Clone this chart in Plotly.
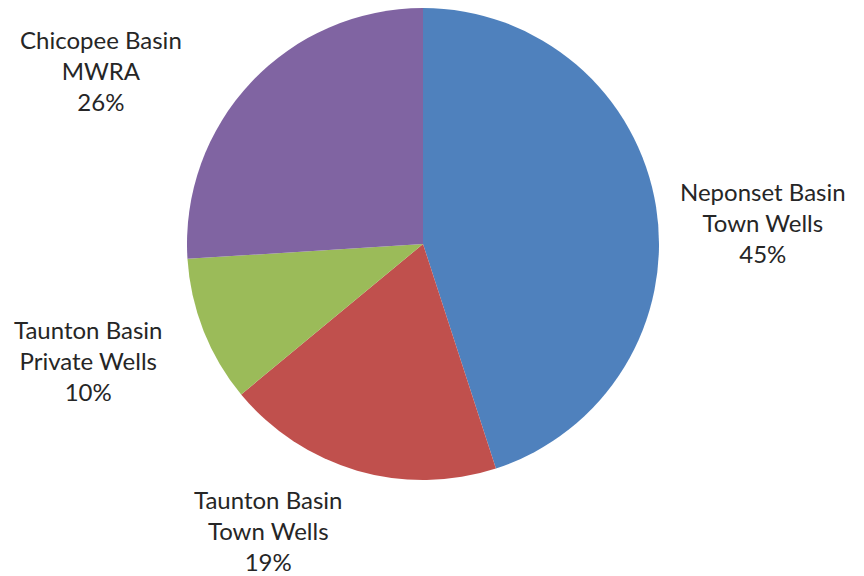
import plotly.graph_objects as go

# Share of supply by basin / source
basins = ["Neponset Basin", "Taunton Basin", "Taunton Basin", "Chicopee Basin"]
sources = ["Town Wells", "Town Wells", "Private Wells", "MWRA"]
shares = [45, 19, 10, 26]
colors = ["#4F81BD", "#C0504D", "#9BBB59", "#8064A2"]

# label anchor points (pixel centres in the 864x576 canvas)
label_xy = [(763, 222), (268, 530), (88, 360), (101, 70)]

W, H = 864, 576

fig = go.Figure(
    go.Pie(
        labels=[f"{b} {s}" for b, s in zip(basins, sources)],
        values=shares,
        sort=False,
        direction="clockwise",
        rotation=0,
        marker=dict(colors=colors, line=dict(width=0)),
        textinfo="none",
        hoverinfo="label+percent",
        showlegend=False,
        domain=dict(x=[187 / W, 659 / W], y=[(H - 480) / H, (H - 8) / H]),
    )
)

total = sum(shares)
for (b, s, v), (px, py) in zip(zip(basins, sources, shares), label_xy):
    fig.add_annotation(
        x=px / W,
        y=1 - py / H,
        xref="paper",
        yref="paper",
        text=f"{b}<br>{s}<br>{round(100 * v / total)}%",
        showarrow=False,
        xanchor="center",
        yanchor="middle",
        align="center",
        font=dict(family="Lato", size=24, color="#262626"),
    )

fig.update_layout(
    width=W,
    height=H,
    margin=dict(l=0, r=0, t=0, b=0),
    paper_bgcolor="white",
    plot_bgcolor="white",
)

fig.write_html("out.html")
